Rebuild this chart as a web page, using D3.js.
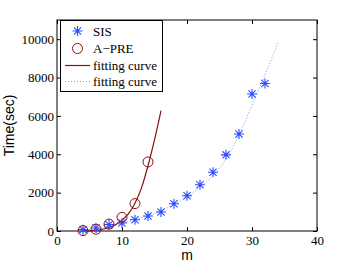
<!DOCTYPE html>
<html>
<head>
<meta charset="utf-8">
<script src="https://cdn.jsdelivr.net/npm/d3@7"></script>
<style>
  html, body { margin: 0; padding: 0; background: #fff; }
  svg { display: block; }
  .serif { font-family: "Liberation Serif", "Times New Roman", Times, "DejaVu Serif", serif; }
  .sans { font-family: "Liberation Sans", Arial, Helvetica, sans-serif; }
</style>
</head>
<body>
<svg id="chart" width="350" height="264"></svg>
<script>
// values
const sisM = [4, 6, 8, 10, 12, 14, 16, 18, 20, 22, 24, 26, 28, 30, 32];
const sisTime = [70, 155, 330, 415, 590, 780, 990, 1420, 1840, 2410, 3065, 3970, 5060, 7140, 7690];

const apreM = [4, 6, 8, 10, 12, 14];
const apreTime = [20, 90, 360, 710, 1430, 3600];

// fitted curves
const apreFitM = [4, 5, 6, 7, 8, 9, 10, 11, 12, 13, 14, 15, 16];
const apreFitTime = [0, 10, 40, 90, 180, 330, 560, 900, 1450, 2250, 3400, 4750, 6270];

const sisFitM = [4, 6, 8, 10, 12, 14, 16, 18, 20, 22, 24, 26, 28, 30, 32, 34];
const sisFitTime = [40, 110, 230, 390, 580, 800, 1060, 1380, 1780, 2280, 2900, 3750, 5000, 6550, 8150, 9800];

const xTicks = [0, 10, 20, 30, 40];
const yTicks = [0, 2000, 4000, 6000, 8000, 10000];

const legendLabels = ['SIS', 'A\u2212PRE', 'fitting curve', 'fitting curve'];

const margin = { left: 57, right: 33, top: 20, bottom: 33 };
const W = 350, H = 264;
const svg = d3.select('#chart');

const x = d3.scaleLinear().domain([0, 40]).range([margin.left, W - margin.right]);
const y = d3.scaleLinear().domain([0, 11000]).range([H - margin.bottom, margin.top]);

const blue = '#2a4bff';
const red = '#8b1010';
const lightBlue = '#8090ff';

// axes, ticks inside like matlab
const styleAxis = g => {
  g.attr('font-family', null);
  g.select('.domain').remove();
  g.selectAll('line').attr('stroke', '#000');
  g.selectAll('text').attr('class', 'serif').attr('font-size', 13).attr('fill', '#000');
};

svg.append('g')
  .attr('transform', `translate(0,${y(0)})`)
  .call(d3.axisBottom(x).tickValues(xTicks).tickSize(-4).tickPadding(5).tickFormat(d3.format('d')))
  .call(styleAxis);
svg.append('g')
  .attr('transform', `translate(0,${y(11000)})`)
  .call(d3.axisTop(x).tickValues(xTicks).tickSize(-4).tickFormat(''))
  .call(styleAxis);
svg.append('g')
  .attr('transform', `translate(${x(0)},0)`)
  .call(d3.axisLeft(y).tickValues(yTicks).tickSize(-4).tickPadding(3).tickFormat(d3.format('d')))
  .call(styleAxis);
svg.append('g')
  .attr('transform', `translate(${x(40)},0)`)
  .call(d3.axisRight(y).tickValues(yTicks).tickSize(-4).tickFormat(''))
  .call(styleAxis);

svg.append('rect')
  .attr('x', x(0)).attr('y', y(11000))
  .attr('width', x(40) - x(0)).attr('height', y(0) - y(11000))
  .attr('fill', 'none').attr('stroke', '#000').attr('stroke-width', 1);

// curves
const line = d3.line().x(d => x(d[0])).y(d => y(d[1])).curve(d3.curveMonotoneX);

svg.append('path')
  .attr('d', line(sisFitM.map((m, i) => [m, sisFitTime[i]])))
  .attr('fill', 'none').attr('stroke', lightBlue).attr('stroke-width', 1)
  .attr('stroke-dasharray', '1,2');

svg.append('path')
  .attr('d', line(apreFitM.map((m, i) => [m, apreFitTime[i]])))
  .attr('fill', 'none').attr('stroke', red).attr('stroke-width', 1.2);

// markers
const starPath = (r) => {
  const d = r * 0.72;
  return `M${-r},0H${r}M0,${-r}V${r}M${-d},${-d}L${d},${d}M${-d},${d}L${d},${-d}`;
};

svg.append('g').selectAll('path')
  .data(sisM.map((m, i) => [m, sisTime[i]]))
  .join('path')
  .attr('transform', d => `translate(${x(d[0])},${y(d[1])})`)
  .attr('d', starPath(5))
  .attr('stroke', blue).attr('stroke-width', 1.1).attr('fill', 'none');

svg.append('g').selectAll('circle')
  .data(apreM.map((m, i) => [m, apreTime[i]]))
  .join('circle')
  .attr('cx', d => x(d[0])).attr('cy', d => y(d[1])).attr('r', 5)
  .attr('fill', 'none').attr('stroke', red).attr('stroke-width', 1);

// legend
const lg = svg.append('g');
lg.append('rect')
  .attr('x', 60.5).attr('y', 20.5).attr('width', 102).attr('height', 71)
  .attr('fill', '#fff').attr('stroke', '#000').attr('stroke-width', 1);

const rowY = [31, 48.5, 65.5, 81.5];
lg.append('path').attr('transform', `translate(77.5,${rowY[0]})`)
  .attr('d', starPath(5)).attr('stroke', blue).attr('stroke-width', 1.1);
lg.append('circle').attr('cx', 77.5).attr('cy', rowY[1]).attr('r', 5)
  .attr('fill', 'none').attr('stroke', red);
lg.append('line').attr('x1', 65).attr('x2', 90).attr('y1', rowY[2]).attr('y2', rowY[2])
  .attr('stroke', red).attr('stroke-width', 1.2);
lg.append('line').attr('x1', 65).attr('x2', 90).attr('y1', rowY[3]).attr('y2', rowY[3])
  .attr('stroke', lightBlue).attr('stroke-dasharray', '1,2');

lg.selectAll('text').data(legendLabels).join('text')
  .attr('class', 'serif')
  .attr('x', 93).attr('y', (d, i) => rowY[i]).attr('dy', '0.35em')
  .attr('font-size', 13).attr('fill', '#000')
  .text(d => d);

// axis titles
svg.append('text')
  .attr('class', 'sans')
  .attr('x', (x(0) + x(40)) / 2).attr('y', 260)
  .attr('text-anchor', 'middle').attr('font-size', 14)
  .text('m');
svg.append('text')
  .attr('class', 'sans')
  .attr('transform', `translate(13.5,${(y(0) + y(11000)) / 2}) rotate(-90)`)
  .attr('text-anchor', 'middle').attr('font-size', 14)
  .text('Time(sec)');
</script>
</body>
</html>
